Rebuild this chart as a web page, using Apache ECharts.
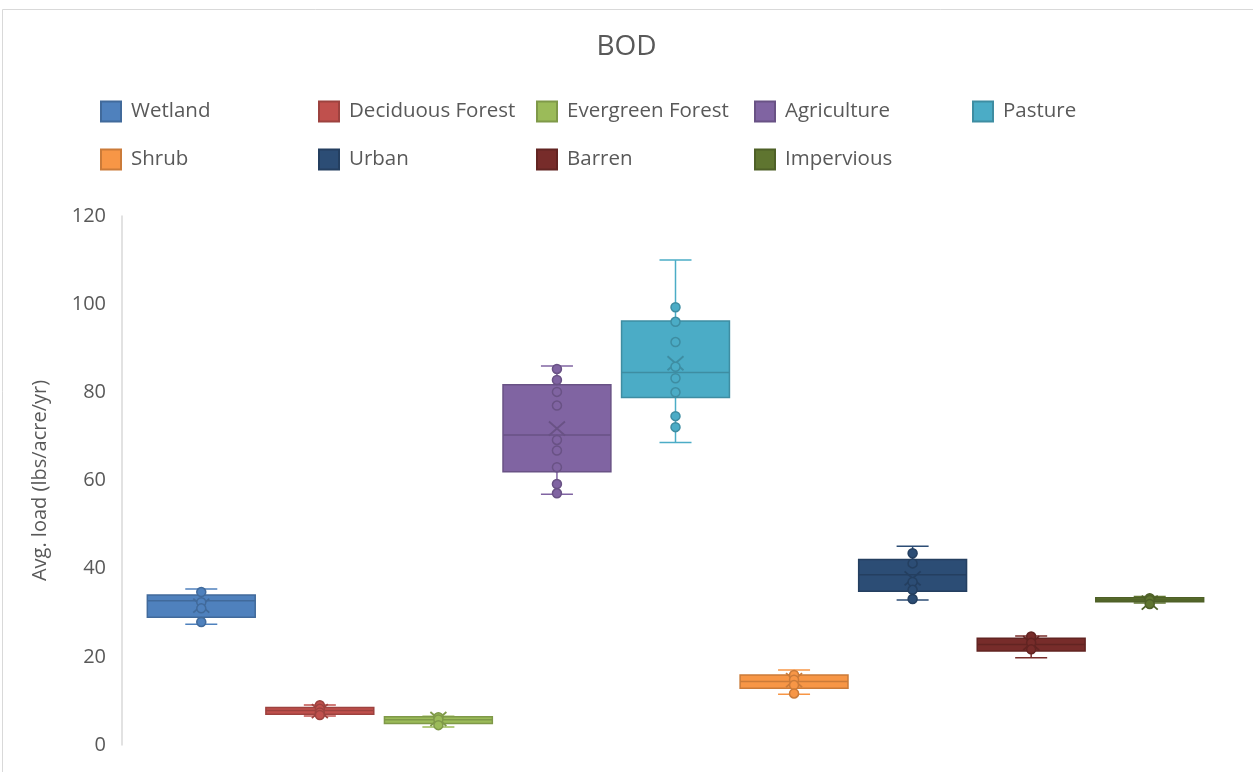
<!DOCTYPE html>
<html>
<head>
<meta charset="utf-8">
<script src="https://cdn.jsdelivr.net/npm/echarts@6/dist/echarts.min.js"></script>
<style>
  html, body { margin: 0; padding: 0; background: #fff; }
  #chart { width: 1253px; height: 772px; }
</style>
</head>
<body>
<div id="chart"></div>
<script>
// land use classes, one box each
const landUses = ['Wetland', 'Deciduous Forest', 'Evergreen Forest', 'Agriculture', 'Pasture',
  'Shrub', 'Urban', 'Barren', 'Impervious'];
const colors = ['#4f81bd', '#c0504d', '#9bbb59', '#8064a2', '#4bacc6',
  '#f79646', '#2c4d75', '#772c2a', '#5f7530'];

// box statistics (lbs/acre/yr)
const whiskerLow  = [27.4, 6.6, 4.1, 56.9, 68.6, 11.5, 32.9, 19.8, 32.2];
const q1          = [29.0, 7.0, 4.9, 62.0, 78.8, 12.9, 34.9, 21.3, 32.5];
const median      = [32.7, 7.8, 5.7, 70.3, 84.5, 14.4, 38.6, 22.8, 32.9];
const q3          = [34.0, 8.5, 6.4, 81.7, 96.2, 15.9, 42.1, 24.2, 33.4];
const whiskerHigh = [35.4, 9.1, 6.5, 86.0, 110.0, 17.0, 45.1, 24.7, 33.7];
const meanValue   = [31.6, 7.7, 5.9, 71.8, 86.6, 14.7, 37.8, 23.1, 32.3];

// individual points shown on each box
const points = [
  [34.7, 32.4, 31.0, 27.9],
  [9.0, 8.2, 7.4, 6.8],
  [6.3, 5.8, 4.5],
  [85.3, 82.8, 80.1, 77.0, 69.2, 66.8, 63.0, 59.2, 57.1],
  [99.3, 96.0, 91.4, 85.8, 83.2, 80.0, 74.6, 72.1],
  [15.9, 14.8, 13.6, 11.7],
  [43.5, 41.2, 37.0, 35.2, 33.1],
  [24.6, 23.2, 21.7],
  [33.3, 32.9, 32.0]
];

const yTicks = { min: 0, max: 120, step: 20 };

const textColor = '#595959';
const font = 'Open Sans';

// darker shade for borders / median / mean marker
function darken(hex, f) {
  const n = parseInt(hex.slice(1), 16);
  const r = Math.round(((n >> 16) & 255) * (1 - f));
  const g = Math.round(((n >> 8) & 255) * (1 - f));
  const b = Math.round((n & 255) * (1 - f));
  return 'rgb(' + r + ',' + g + ',' + b + ')';
}

function renderBox(params, api) {
  const i = api.value(0);
  const x = api.coord([i, 0])[0];
  const band = api.size([1, 0])[0];
  const half = band * 0.455;
  const cap = band * 0.135;
  const yLow = api.coord([i, api.value(1)])[1];
  const yQ1 = api.coord([i, api.value(2)])[1];
  const yMed = api.coord([i, api.value(3)])[1];
  const yQ3 = api.coord([i, api.value(4)])[1];
  const yHigh = api.coord([i, api.value(5)])[1];
  const yMean = api.coord([i, api.value(6)])[1];
  const color = colors[i];
  const dark = darken(color, 0.18);
  const line = (x1, y1, x2, y2, stroke, w) => ({
    type: 'line', shape: { x1, y1, x2, y2 }, style: { stroke, lineWidth: w }
  });
  return {
    type: 'group',
    children: [
      line(x, yHigh, x, yQ3, color, 1.5),
      line(x - cap, yHigh, x + cap, yHigh, color, 1.5),
      line(x, yQ1, x, yLow, color, 1.5),
      line(x - cap, yLow, x + cap, yLow, color, 1.5),
      {
        type: 'rect',
        shape: { x: x - half, y: yQ3, width: half * 2, height: Math.max(yQ1 - yQ3, 1) },
        style: { fill: color, stroke: dark, lineWidth: 1.5 }
      },
      line(x - half, yMed, x + half, yMed, dark, 1.5),
      line(x - 8, yMean - 7, x + 8, yMean + 7, dark, 1.8),
      line(x - 8, yMean + 7, x + 8, yMean - 7, dark, 1.8)
    ]
  };
}

const series = [];
landUses.forEach((name, k) => {
  series.push({
    name: name,
    type: 'custom',
    renderItem: renderBox,
    itemStyle: { color: colors[k], borderColor: darken(colors[k], 0.18), borderWidth: 1 },
    encode: { x: 0, y: [1, 5] },
    data: [[k, whiskerLow[k], q1[k], median[k], q3[k], whiskerHigh[k], meanValue[k]]],
    z: 2
  });
  series.push({
    name: name,
    type: 'scatter',
    symbol: 'circle',
    symbolSize: 9,
    itemStyle: { color: colors[k], borderColor: darken(colors[k], 0.18), borderWidth: 1.5, opacity: 1 },
    data: points[k].map(v => [k, v]),
    z: 3
  });
});

const chart = echarts.init(document.getElementById('chart'));
chart.setOption({
  backgroundColor: '#fff',
  animation: false,
  textStyle: { fontFamily: font },
  title: {
    text: 'BOD',
    left: 'center',
    top: 28,
    textStyle: { fontFamily: font, fontSize: 28, fontWeight: 'normal', color: textColor }
  },
  legend: {
    data: landUses,
    left: 95,
    top: 91,
    width: 1100,
    icon: 'rect',
    itemWidth: 20,
    itemHeight: 20,
    itemGap: 17,
    textStyle: {
      fontFamily: font, fontSize: 20.5, color: textColor,
      width: 170, lineHeight: 31, padding: [0, 0, 0, 5]
    }
  },
  graphic: [{
    type: 'rect',
    left: 0, top: 7,
    shape: { width: 1251, height: 764 },
    style: { fill: 'none', stroke: '#d9d9d9', lineWidth: 1 },
    silent: true
  }],
  grid: { left: 142, right: 44, top: 216, bottom: 27 },
  xAxis: {
    type: 'category',
    data: landUses,
    boundaryGap: true,
    axisLine: { show: false },
    axisTick: { show: false },
    axisLabel: { show: false },
    splitLine: { show: false }
  },
  yAxis: {
    type: 'value',
    min: yTicks.min,
    max: yTicks.max,
    interval: yTicks.step,
    offset: 20,
    name: 'Avg. load (lbs/acre/yr)',
    nameLocation: 'middle',
    nameGap: 72,
    nameTextStyle: { fontFamily: font, fontSize: 20, color: textColor },
    axisLine: { show: true, lineStyle: { color: '#d9d9d9', width: 1.5 } },
    axisTick: { show: false },
    splitLine: { show: false },
    axisLabel: { fontFamily: font, fontSize: 20, color: textColor, margin: 16 }
  },
  series: series
});
</script>
</body>
</html>
